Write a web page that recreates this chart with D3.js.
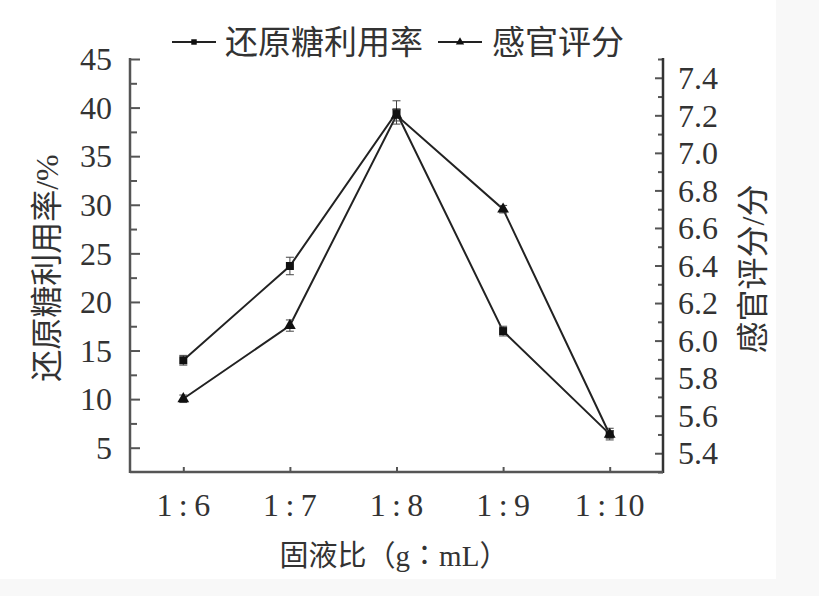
<!DOCTYPE html>
<html>
<head>
    <meta charset="utf-8">
    <title>固液比</title>
    <script src="https://d3js.org/d3.v7.min.js"></script>
    <style>
        body { margin: 0; padding: 0; background: #fff; }
        text { font-family: "Liberation Serif", "Noto Sans CJK SC", serif; fill: #333; }
    </style>
</head>
<body>
    <script>
        // data
        var ratios = ["1\u2009:\u20096", "1\u2009:\u20097", "1\u2009:\u20098", "1\u2009:\u20099", "1\u2009:\u200910"];
        var sugarUse = [14.0, 23.7, 39.5, 17.0, 6.4];      // 还原糖利用率 /%
        var sugarErr = [0.5, 0.9, 1.2, 0.5, 0.6];
        var score = [5.69, 6.08, 7.2, 6.7, 5.5];           // 感官评分 /分
        var scoreErr = [0.02, 0.03, 0.03, 0.02, 0.02];
        var leftTicks = [5, 10, 15, 20, 25, 30, 35, 40, 45];
        var rightTicks = [5.4, 5.6, 5.8, 6.0, 6.2, 6.4, 6.6, 6.8, 7.0, 7.2, 7.4];

        var width = 819, height = 596;
        var pLeft = 130, pRight = 663, pTop = 58, pBottom = 472;

        var svg = d3.select("body").append("svg")
            .attr("width", width)
            .attr("height", height);

        // faint scan edge
        svg.append("rect").attr("x", 0).attr("y", 0).attr("width", width).attr("height", height).attr("fill", "#f8f8f8");
        svg.append("rect").attr("x", 0).attr("y", 0).attr("width", 776).attr("height", 579).attr("fill", "#fff");

        var x = d3.scalePoint().domain(ratios).range([pLeft, pRight]).padding(0.5);
        var yL = d3.scaleLinear().domain([2.5, 45]).range([pBottom, pTop + 1]);
        var yR = d3.scaleLinear().domain([5.3, 7.5]).range([pBottom, pTop + 1]);

        var axisColor = "#555";
        var fs = 32;

        // axes
        var gL = svg.append("g").attr("transform", "translate(" + pLeft + ",0)")
            .call(d3.axisRight(yL).tickValues(leftTicks).tickSize(10).tickFormat(""));
        gL.append("g").call(d3.axisRight(yL).tickValues(d3.range(7.5, 45, 5)).tickSize(7).tickFormat(""));
        leftTicks.forEach(function (v) {
            svg.append("text").attr("x", pLeft - 18).attr("y", yL(v)).attr("dy", "0.35em")
                .attr("text-anchor", "end").attr("font-size", fs).text(v);
        });

        var gR = svg.append("g").attr("transform", "translate(" + pRight + ",0)")
            .call(d3.axisLeft(yR).tickValues(rightTicks).tickSize(8).tickFormat(""));
        gR.append("g").call(d3.axisLeft(yR).tickValues(d3.range(5.3, 7.55, 0.2).map(function (d) { return +d.toFixed(1); })).tickSize(5).tickFormat(""));
        rightTicks.forEach(function (v) {
            svg.append("text").attr("x", pRight + 15).attr("y", yR(v)).attr("dy", "0.35em")
                .attr("text-anchor", "start").attr("font-size", fs).text(v.toFixed(1));
        });

        svg.append("g").attr("transform", "translate(0," + pBottom + ")")
            .call(d3.axisTop(x).tickSize(5).tickFormat(""));
        ratios.forEach(function (r) {
            svg.append("text").attr("x", x(r)).attr("y", 505).attr("dy", "0.35em")
                .attr("text-anchor", "middle").attr("font-size", fs).text(r);
        });

        svg.selectAll(".domain").remove();
        svg.selectAll(".tick line").attr("stroke", axisColor).attr("stroke-width", 2);

        // frame lines: left, right, bottom
        svg.append("line").attr("x1", pLeft).attr("x2", pLeft).attr("y1", pTop).attr("y2", pBottom + 1)
            .attr("stroke", axisColor).attr("stroke-width", 2.5);
        svg.append("line").attr("x1", pRight).attr("x2", pRight).attr("y1", pTop).attr("y2", pBottom + 1)
            .attr("stroke", "#333").attr("stroke-width", 2.5);
        svg.append("line").attr("x1", pLeft).attr("x2", pRight).attr("y1", pBottom).attr("y2", pBottom)
            .attr("stroke", axisColor).attr("stroke-width", 2.5);

        // axis titles
        svg.append("text").attr("transform", "translate(47,268) rotate(-90)")
            .attr("text-anchor", "middle").attr("dy", "0.35em").attr("font-size", fs).text("还原糖利用率/%");
        svg.append("text").attr("transform", "translate(753,269) rotate(-90)")
            .attr("text-anchor", "middle").attr("dy", "0.35em").attr("font-size", fs).text("感官评分/分");
        svg.append("text").attr("x", 394).attr("y", 556).attr("dy", "0.35em")
            .attr("text-anchor", "middle").attr("font-size", 29).text("固液比（g∶mL）");

        var lineColor = "#222";

        function drawSeries(vals, errs, ys, shape) {
            svg.append("path")
                .datum(vals)
                .attr("fill", "none")
                .attr("stroke", lineColor)
                .attr("stroke-width", 2)
                .attr("d", d3.line().x(function (d, i) { return x(ratios[i]); }).y(function (d) { return ys(d); }));
            vals.forEach(function (v, i) {
                var cx = x(ratios[i]);
                var y1 = ys(v + errs[i]), y2 = ys(v - errs[i]);
                svg.append("line").attr("x1", cx).attr("x2", cx).attr("y1", y1).attr("y2", y2)
                    .attr("stroke", "#444").attr("stroke-width", 1);
                [y1, y2].forEach(function (yy) {
                    svg.append("line").attr("x1", cx - 4).attr("x2", cx + 4).attr("y1", yy).attr("y2", yy)
                        .attr("stroke", "#444").attr("stroke-width", 1);
                });
            });
            svg.append("g").selectAll("path.m")
                .data(vals)
                .join("path")
                .attr("transform", function (d, i) { return "translate(" + x(ratios[i]) + "," + ys(d) + ")"; })
                .attr("d", d3.symbol().type(shape).size(shape === d3.symbolSquare ? 64 : 60))
                .attr("fill", "#111");
        }

        drawSeries(sugarUse, sugarErr, yL, d3.symbolSquare);
        drawSeries(score, scoreErr, yR, d3.symbolTriangle);

        // legend
        var legend = [
            { name: "还原糖利用率", shape: d3.symbolSquare, x0: 172, tx: 225 },
            { name: "感官评分", shape: d3.symbolTriangle, x0: 438, tx: 492 }
        ];
        legend.forEach(function (l) {
            svg.append("line").attr("x1", l.x0).attr("x2", l.x0 + 44).attr("y1", 42).attr("y2", 42)
                .attr("stroke", lineColor).attr("stroke-width", 2);
            svg.append("path").attr("transform", "translate(" + (l.x0 + 22) + ",42)")
                .attr("d", d3.symbol().type(l.shape).size(30)).attr("fill", "#111");
            svg.append("text").attr("x", l.tx).attr("y", 42).attr("dy", "0.35em")
                .attr("font-size", 33).text(l.name);
        });
    </script>
</body>
</html>
